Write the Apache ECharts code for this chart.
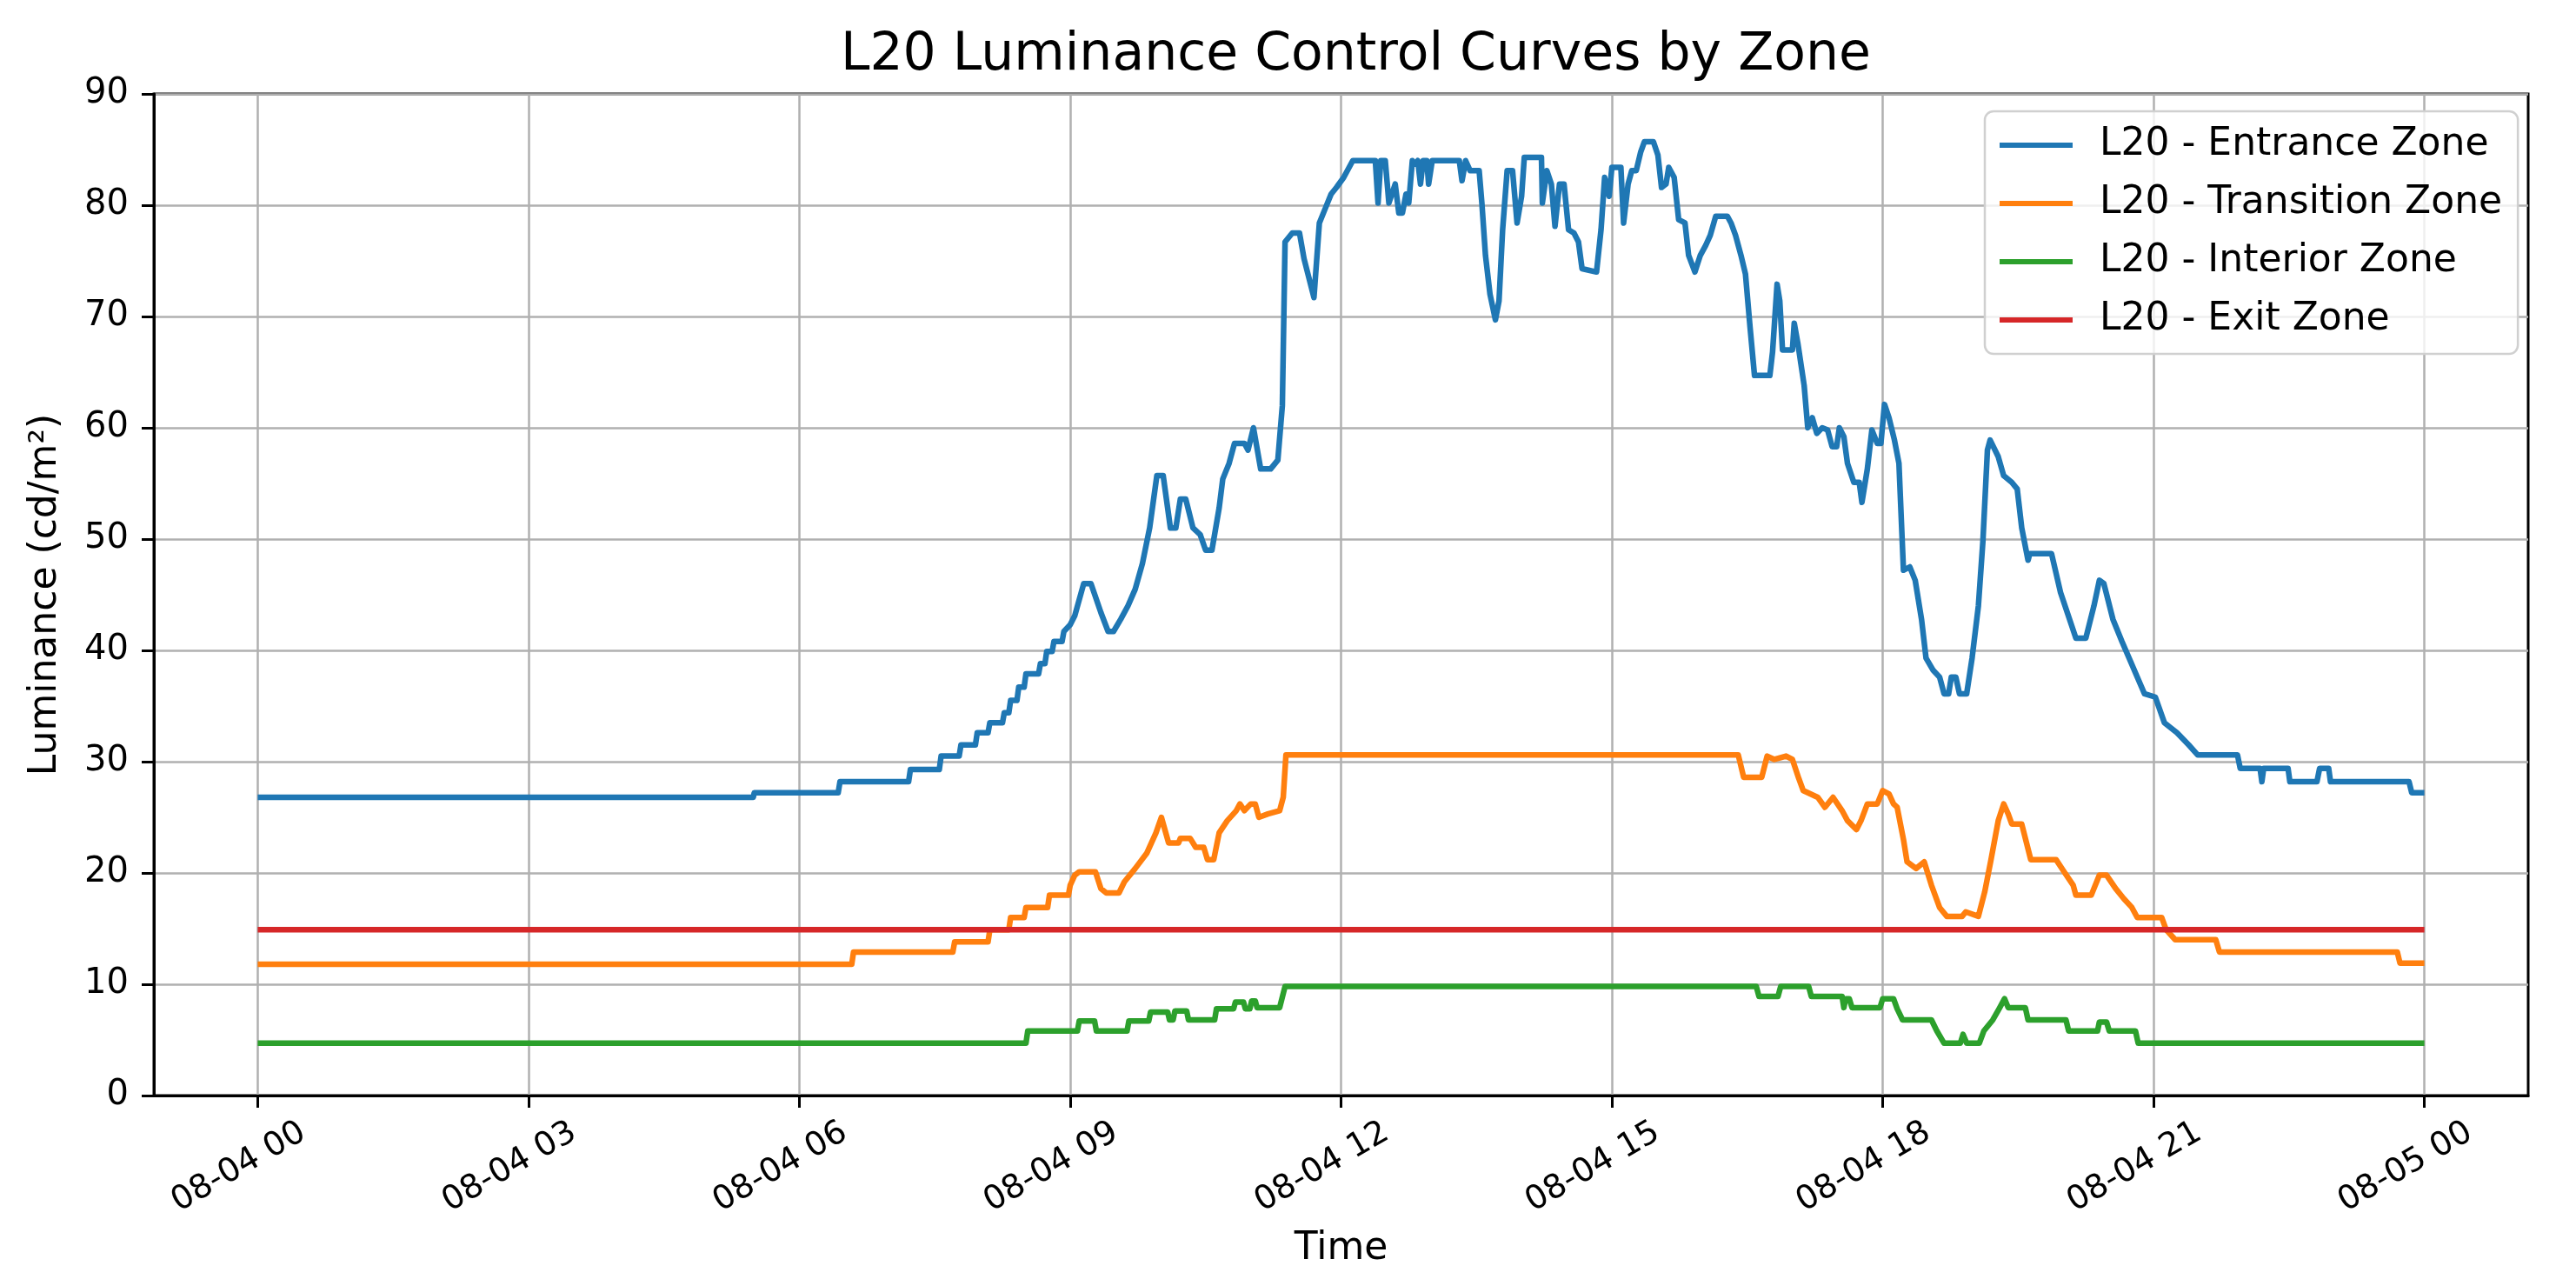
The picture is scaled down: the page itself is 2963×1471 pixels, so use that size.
<!DOCTYPE html>
<html>
<head>
<meta charset="utf-8">
<script src="https://cdn.jsdelivr.net/npm/echarts@6/dist/echarts.min.js"></script>
<style>
  html, body { margin: 0; padding: 0; background: #fff; }
  #chart { width: 2963px; height: 1471px; }
</style>
</head>
<body>
<div id="chart"></div>
<script>
// hours after 08-04 00:00, values in cd/m2
const tickHours = [0, 3, 6, 9, 12, 15, 18, 21, 24];
const tickLabels = ['08-04 00', '08-04 03', '08-04 06', '08-04 09', '08-04 12',
  '08-04 15', '08-04 18', '08-04 21', '08-05 00'];
const seriesNames = ['L20 - Entrance Zone', 'L20 - Transition Zone', 'L20 - Interior Zone', 'L20 - Exit Zone'];

const entrance = [
  [0, 26.8], [5.49, 26.8], [5.5, 27.2], [6.43, 27.2], [6.45, 28.2], [7.21, 28.2], [7.23, 29.3],
  [7.55, 29.3], [7.57, 30.5], [7.77, 30.5], [7.79, 31.5], [7.95, 31.5], [7.97, 32.6], [8.09, 32.6],
  [8.11, 33.5], [8.25, 33.5], [8.27, 34.4], [8.32, 34.4], [8.34, 35.5], [8.41, 35.5], [8.43, 36.7],
  [8.49, 36.7], [8.51, 37.9], [8.65, 37.9], [8.67, 38.8], [8.72, 38.8], [8.74, 39.9], [8.8, 39.9],
  [8.82, 40.8], [8.91, 40.8], [8.93, 41.7], [9.0, 42.3], [9.05, 43.1], [9.15, 46.0], [9.23, 46.0],
  [9.34, 43.4], [9.42, 41.7], [9.48, 41.7], [9.56, 42.8], [9.64, 44.0], [9.72, 45.5], [9.8, 47.8],
  [9.88, 51.0], [9.96, 55.7], [10.03, 55.7], [10.11, 51.0], [10.17, 51.0], [10.22, 53.6], [10.28, 53.6],
  [10.36, 51.0], [10.44, 50.4], [10.5, 49.0], [10.57, 49.0], [10.65, 52.8], [10.69, 55.4], [10.76, 56.8],
  [10.82, 58.6], [10.93, 58.6], [10.97, 58.0], [11.03, 60.0], [11.11, 56.3], [11.22, 56.3], [11.3, 57.1],
  [11.35, 62.0], [11.38, 76.7], [11.46, 77.5], [11.54, 77.5], [11.59, 75.2], [11.7, 71.7], [11.76, 78.4],
  [11.82, 79.6], [11.89, 81.0], [11.95, 81.6], [12.03, 82.5], [12.13, 84.0], [12.38, 84.0], [12.41, 80.2],
  [12.44, 84.0], [12.49, 84.0], [12.53, 80.2], [12.6, 81.9], [12.64, 79.3], [12.68, 79.3], [12.72, 81.0],
  [12.75, 80.2], [12.79, 84.0], [12.82, 83.7], [12.85, 84.0], [12.88, 81.9], [12.91, 84.0], [12.95, 84.0],
  [12.97, 81.9], [13.01, 84.0], [13.31, 84.0], [13.34, 82.2], [13.38, 84.0], [13.43, 83.1], [13.53, 83.1],
  [13.56, 80.2], [13.6, 75.5], [13.65, 72.0], [13.71, 69.7], [13.75, 71.4], [13.79, 77.8], [13.84, 83.1],
  [13.9, 83.1], [13.95, 78.4], [14.0, 80.8], [14.03, 84.3], [14.22, 84.3], [14.23, 80.2], [14.28, 83.1],
  [14.33, 81.9], [14.37, 78.1], [14.42, 81.9], [14.47, 81.9], [14.52, 77.8], [14.58, 77.5], [14.63, 76.7],
  [14.67, 74.3], [14.83, 74.0], [14.88, 77.8], [14.92, 82.5], [14.97, 80.8], [15.0, 83.4], [15.1, 83.4],
  [15.13, 78.4], [15.18, 81.9], [15.22, 83.1], [15.27, 83.1], [15.32, 84.8], [15.36, 85.7], [15.46, 85.7],
  [15.51, 84.5], [15.55, 81.6], [15.6, 81.9], [15.63, 83.4], [15.69, 82.5], [15.74, 78.7], [15.81, 78.4],
  [15.85, 75.5], [15.92, 74.0], [15.98, 75.5], [16.04, 76.4], [16.09, 77.3], [16.15, 79.0], [16.28, 79.0],
  [16.32, 78.4], [16.37, 77.3], [16.43, 75.5], [16.48, 73.8], [16.53, 69.1], [16.58, 64.7], [16.75, 64.7],
  [16.78, 66.8], [16.83, 72.9], [16.86, 71.4], [16.89, 67.0], [17.0, 67.0], [17.02, 69.4], [17.06, 67.6],
  [17.13, 63.8], [17.17, 60.0], [17.22, 60.9], [17.27, 59.5], [17.33, 60.0], [17.39, 59.8], [17.44, 58.3],
  [17.49, 58.3], [17.52, 60.0], [17.57, 59.2], [17.61, 56.8], [17.68, 55.1], [17.74, 55.1], [17.77, 53.3],
  [17.83, 56.3], [17.88, 59.8], [17.94, 58.6], [17.98, 58.6], [18.02, 62.1], [18.07, 60.9], [18.13, 58.9],
  [18.18, 56.8], [18.23, 47.2], [18.3, 47.5], [18.36, 46.3], [18.43, 42.8], [18.48, 39.3], [18.56, 38.2],
  [18.63, 37.6], [18.68, 36.1], [18.73, 36.1], [18.76, 37.6], [18.81, 37.6], [18.85, 36.1], [18.93, 36.1],
  [18.99, 39.3], [19.06, 44.0], [19.11, 49.8], [19.16, 58.0], [19.19, 58.9], [19.28, 57.4], [19.34, 55.7],
  [19.43, 55.1], [19.49, 54.5], [19.54, 51.0], [19.61, 48.1], [19.63, 48.7], [19.87, 48.7], [19.97, 45.2],
  [20.09, 42.3], [20.14, 41.1], [20.25, 41.1], [20.34, 44.0], [20.4, 46.3], [20.45, 46.0], [20.55, 42.8],
  [20.65, 40.8], [20.73, 39.3], [20.82, 37.6], [20.9, 36.1], [21.02, 35.8], [21.12, 33.5], [21.26, 32.6],
  [21.39, 31.5], [21.49, 30.6], [21.93, 30.6], [21.96, 29.4], [22.18, 29.4], [22.2, 28.2], [22.22, 29.4],
  [22.49, 29.4], [22.51, 28.2], [22.81, 28.2], [22.84, 29.4], [22.94, 29.4], [22.96, 28.2], [23.83, 28.2],
  [23.86, 27.2], [24.0, 27.2]
];

const transition = [
  [0, 11.8], [6.58, 11.8], [6.6, 12.9], [7.7, 12.9], [7.72, 13.8], [8.09, 13.8], [8.11, 14.9],
  [8.32, 14.9], [8.34, 16.0], [8.49, 16.0], [8.51, 16.9], [8.75, 16.9], [8.77, 18.0], [8.98, 18.0],
  [9.0, 18.9], [9.05, 19.8], [9.1, 20.1], [9.28, 20.1], [9.34, 18.6], [9.4, 18.2], [9.54, 18.2],
  [9.6, 19.2], [9.72, 20.4], [9.85, 21.8], [9.95, 23.6], [10.01, 25.0], [10.09, 22.7], [10.2, 22.7],
  [10.22, 23.1], [10.33, 23.1], [10.39, 22.3], [10.48, 22.3], [10.52, 21.2], [10.59, 21.2], [10.65, 23.6],
  [10.74, 24.7], [10.84, 25.6], [10.88, 26.2], [10.93, 25.6], [11.0, 26.2], [11.05, 26.2], [11.09, 25.0],
  [11.19, 25.3], [11.32, 25.6], [11.36, 26.8], [11.39, 30.6], [16.4, 30.6], [16.46, 28.6], [16.66, 28.6],
  [16.72, 30.5], [16.8, 30.2], [16.93, 30.5], [17.0, 30.2], [17.07, 28.5], [17.12, 27.4], [17.28, 26.8],
  [17.36, 25.9], [17.45, 26.8], [17.55, 25.6], [17.61, 24.7], [17.71, 23.9], [17.76, 24.7], [17.83, 26.2],
  [17.94, 26.2], [18.0, 27.4], [18.07, 27.1], [18.12, 26.2], [18.16, 25.9], [18.23, 23.0], [18.27, 21.0],
  [18.37, 20.4], [18.46, 21.0], [18.54, 18.9], [18.63, 16.9], [18.71, 16.1], [18.88, 16.1], [18.92, 16.5],
  [19.06, 16.1], [19.13, 18.3], [19.2, 21.2], [19.28, 24.7], [19.34, 26.2], [19.39, 25.3], [19.43, 24.4],
  [19.54, 24.4], [19.64, 21.2], [19.92, 21.2], [20.01, 20.1], [20.11, 18.9], [20.14, 18.0], [20.31, 18.0],
  [20.4, 19.8], [20.48, 19.8], [20.58, 18.6], [20.67, 17.7], [20.76, 16.9], [20.82, 16.0], [21.09, 16.0],
  [21.14, 14.9], [21.24, 14.0], [21.69, 14.0], [21.73, 12.9], [23.7, 12.9], [23.73, 11.9], [24.0, 11.9]
];

const interior = [
  [0, 4.7], [8.51, 4.7], [8.53, 5.8], [9.08, 5.8], [9.1, 6.7], [9.27, 6.7], [9.29, 5.8], [9.63, 5.8],
  [9.65, 6.7], [9.87, 6.7], [9.89, 7.5], [10.08, 7.5], [10.1, 6.8], [10.14, 6.8], [10.16, 7.6],
  [10.29, 7.6], [10.31, 6.8], [10.6, 6.8], [10.62, 7.8], [10.81, 7.8], [10.83, 8.4], [10.92, 8.4],
  [10.94, 7.8], [10.99, 7.8], [11.01, 8.5], [11.05, 8.5], [11.07, 7.9], [11.32, 7.9], [11.38, 9.8],
  [16.6, 9.8], [16.63, 8.9], [16.84, 8.9], [16.87, 9.8], [17.18, 9.8], [17.21, 8.9], [17.55, 8.9],
  [17.57, 7.9], [17.59, 8.7], [17.63, 8.7], [17.66, 7.9], [17.97, 7.9], [18.0, 8.7], [18.12, 8.7],
  [18.16, 7.8], [18.22, 6.8], [18.54, 6.8], [18.6, 5.8], [18.68, 4.7], [18.86, 4.7], [18.89, 5.5],
  [18.93, 4.7], [19.07, 4.7], [19.12, 5.8], [19.22, 6.8], [19.29, 7.8], [19.35, 8.7], [19.39, 7.9],
  [19.58, 7.9], [19.61, 6.8], [20.03, 6.8], [20.06, 5.8], [20.38, 5.8], [20.4, 6.6], [20.48, 6.6],
  [20.51, 5.8], [20.8, 5.8], [20.83, 4.7], [24.0, 4.7]
];

const exitZone = [[0, 14.9], [24.0, 14.9]];

const colors = ['#1f77b4', '#ff7f0e', '#2ca02c', '#d62728'];
const fontFamily = 'DejaVu Sans';

const chartDom = document.getElementById('chart');
const chart = echarts.init(chartDom, null, { renderer: 'canvas' });

function lineSeries(name, data, color) {
  return {
    name: name,
    type: 'line',
    data: data,
    showSymbol: false,
    symbol: 'none',
    animation: false,
    lineStyle: { color: color, width: 6.5, join: 'round' },
    itemStyle: { color: color }
  };
}

const option = {
  backgroundColor: '#ffffff',
  animation: false,
  title: {
    text: 'L20 Luminance Control Curves by Zone',
    left: 967,
    top: 34,
    padding: 0,
    textStyle: { fontFamily: fontFamily, fontSize: 60, fontWeight: 'normal', color: '#000' }
  },
  legend: {
    data: seriesNames,
    orient: 'vertical',
    left: 2283,
    top: 128,
    icon: 'rect',
    itemWidth: 84,
    itemHeight: 6,
    itemGap: 17,
    padding: [14, 18, 14, 17],
    backgroundColor: 'rgba(255,255,255,0.8)',
    borderColor: '#d0d0d0',
    borderWidth: 2.5,
    borderRadius: 10,
    textStyle: { fontFamily: fontFamily, fontSize: 44, lineHeight: 50, color: '#000', padding: [0, 0, 0, 26] }
  },
  grid: {
    left: 177,
    right: 55,
    top: 108,
    bottom: 211,
    show: true,
    borderColor: '#000',
    borderWidth: 3,
    containLabel: false
  },
  xAxis: {
    type: 'value',
    min: -1.15,
    max: 25.15,
    name: 'Time',
    nameLocation: 'middle',
    nameGap: 155,
    nameTextStyle: { fontFamily: fontFamily, fontSize: 44, color: '#000' },
    axisLine: { show: true, onZero: false, lineStyle: { color: '#000', width: 3 } },
    axisTick: { show: true, length: 14, customValues: tickHours, lineStyle: { color: '#000', width: 3 } },
    axisLabel: {
      customValues: tickHours,
      rotate: 30,
      align: 'center',
      verticalAlign: 'middle',
      margin: 70,
      padding: [0, 50, 0, 0],
      fontFamily: fontFamily,
      fontSize: 38,
      color: '#000',
      formatter: function (v) {
        const i = tickHours.indexOf(Math.round(v));
        return i >= 0 ? tickLabels[i] : '';
      }
    },
    splitLine: { show: true, lineStyle: { color: '#b0b0b0', width: 2.5 } }
  },
  yAxis: {
    type: 'value',
    min: 0,
    max: 90,
    interval: 10,
    name: 'Luminance (cd/m²)',
    nameLocation: 'middle',
    nameGap: 102,
    nameTextStyle: { fontFamily: fontFamily, fontSize: 44, color: '#000' },
    axisLine: { show: true, onZero: false, lineStyle: { color: '#000', width: 3 } },
    axisTick: { show: true, length: 14, lineStyle: { color: '#000', width: 3 } },
    axisLabel: { margin: 29, fontFamily: fontFamily, fontSize: 40, color: '#000' },
    splitLine: { show: true, lineStyle: { color: '#b0b0b0', width: 2.5 } }
  },
  series: [
    lineSeries(seriesNames[0], entrance, colors[0]),
    lineSeries(seriesNames[1], transition, colors[1]),
    lineSeries(seriesNames[2], interior, colors[2]),
    lineSeries(seriesNames[3], exitZone, colors[3])
  ]
};

option && chart.setOption(option);

window.addEventListener('resize', function () {
  chart.resize();
});
</script>
</body>
</html>
